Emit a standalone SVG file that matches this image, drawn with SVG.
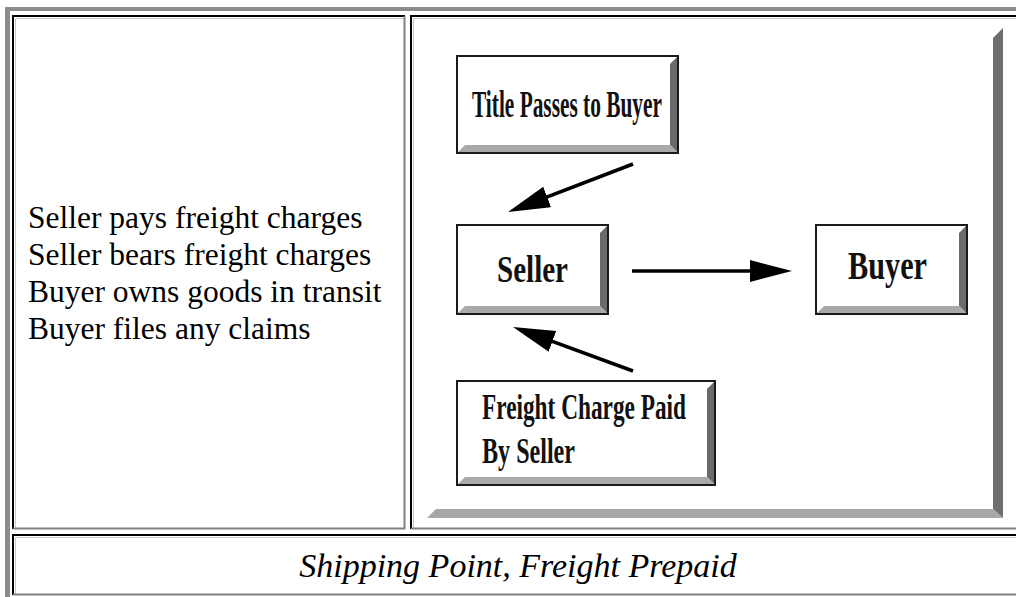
<svg xmlns="http://www.w3.org/2000/svg" width="1016" height="597" viewBox="0 0 1016 597">
<style>
.ltxt{font-family:"Liberation Serif","Times New Roman",serif;font-size:31.5px;fill:#000}
.cap{font-family:"Liberation Serif","Times New Roman",serif;font-size:34px;font-style:italic;fill:#000}
.btxt{font-family:"Liberation Serif","Times New Roman",serif;font-weight:bold;fill:#111}
.outline{fill:#fff;stroke:#1a1a1a;stroke-width:2}
.bevR{fill:#6b6b6b}
.bevB{fill:#a9a9a9}
.conn{stroke:#000;stroke-width:3.5;fill:none;marker-end:url(#ah)}
</style>
<defs>
<marker id="ah" markerUnits="userSpaceOnUse" markerWidth="44" markerHeight="24" refX="32" refY="11" orient="auto">
<path d="M0,0 L42,11 L0,22 Z" fill="#000"/>
</marker>
</defs>
<rect x="0" y="0" width="1016" height="597" fill="#fff"/>
<g id="table">
<rect x="5" y="7" width="1011" height="4" fill="#8c8c8c"/>
<rect x="5" y="7" width="5" height="590" fill="#8c8c8c"/>
<!-- cell 1 -->
<path d="M13,529 V16 H405" fill="none" stroke="#000" stroke-width="2"/>
<path d="M15.5,528 V18.5 H404" fill="none" stroke="#c8c8c8" stroke-width="1"/>
<path d="M13,528.5 H404.5 V16" fill="none" stroke="#808080" stroke-width="2"/>
<!-- cell 2 -->
<path d="M411,529 V16 H1016" fill="none" stroke="#000" stroke-width="2"/>
<path d="M413.5,528 V18.5 H1016" fill="none" stroke="#c8c8c8" stroke-width="1"/>
<path d="M411,528.5 H1016" fill="none" stroke="#808080" stroke-width="2"/>
<!-- cell 3 -->
<path d="M13,595 V535 H1016" fill="none" stroke="#000" stroke-width="2"/>
<path d="M15.5,594 V537.5 H1016" fill="none" stroke="#c8c8c8" stroke-width="1"/>
<path d="M13,594.5 H1016" fill="none" stroke="#808080" stroke-width="2"/>
</g>
<g id="left-text">
<text class="ltxt" x="28" y="228">Seller pays freight charges</text>
<text class="ltxt" x="28" y="265">Seller bears freight charges</text>
<text class="ltxt" x="28" y="302">Buyer owns goods in transit</text>
<text class="ltxt" x="28" y="339">Buyer files any claims</text>
</g>
<g id="panel">
<polygon points="993,38 1003,28 1003,518 993,509" fill="#6e6e6e"/>
<polygon points="427,518 436,509 993,509 1003,518" fill="#a8a8a8"/>
</g>
<g id="title-box">
<rect class="outline" x="457" y="56" width="221" height="97"/>
<polygon class="bevR" points="670,64 677,57 677,152 670,145"/>
<polygon class="bevB" points="458,152 465,145 670,145 677,152"/>
<text class="btxt" x="472" y="117" font-size="37" textLength="190" lengthAdjust="spacingAndGlyphs">Title Passes to Buyer</text>
</g>
<g id="seller-box">
<rect class="outline" x="457" y="225" width="151" height="89"/>
<polygon class="bevR" points="600,233 607,226 607,313 600,306"/>
<polygon class="bevB" points="458,313 465,306 600,306 607,313"/>
<text class="btxt" x="497" y="282" font-size="38" textLength="71" lengthAdjust="spacingAndGlyphs">Seller</text>
</g>
<g id="buyer-box">
<rect class="outline" x="816" y="225" width="151" height="89"/>
<polygon class="bevR" points="959,233 966,226 966,313 959,306"/>
<polygon class="bevB" points="817,313 824,306 959,306 966,313"/>
<text class="btxt" x="848" y="279" font-size="39" textLength="79" lengthAdjust="spacingAndGlyphs">Buyer</text>
</g>
<g id="freight-box">
<rect class="outline" x="457" y="381" width="258" height="104"/>
<polygon class="bevR" points="707,389 714,382 714,484 707,477"/>
<polygon class="bevB" points="458,484 465,477 707,477 714,484"/>
<text class="btxt" x="482" y="419" font-size="35" textLength="204" lengthAdjust="spacingAndGlyphs">Freight Charge Paid</text>
<text class="btxt" x="482" y="463" font-size="35" textLength="93" lengthAdjust="spacingAndGlyphs">By Seller</text>
</g>
<g id="connectors">
<path class="conn" d="M633,164 L517.3,208.4"/>
<path class="conn" d="M632,271 L782,271"/>
<path class="conn" d="M633,371 L522.4,330.4"/>
</g>
<g id="caption">
<text class="cap" x="518" y="577" text-anchor="middle">Shipping Point, Freight Prepaid</text>
</g>
</svg>
